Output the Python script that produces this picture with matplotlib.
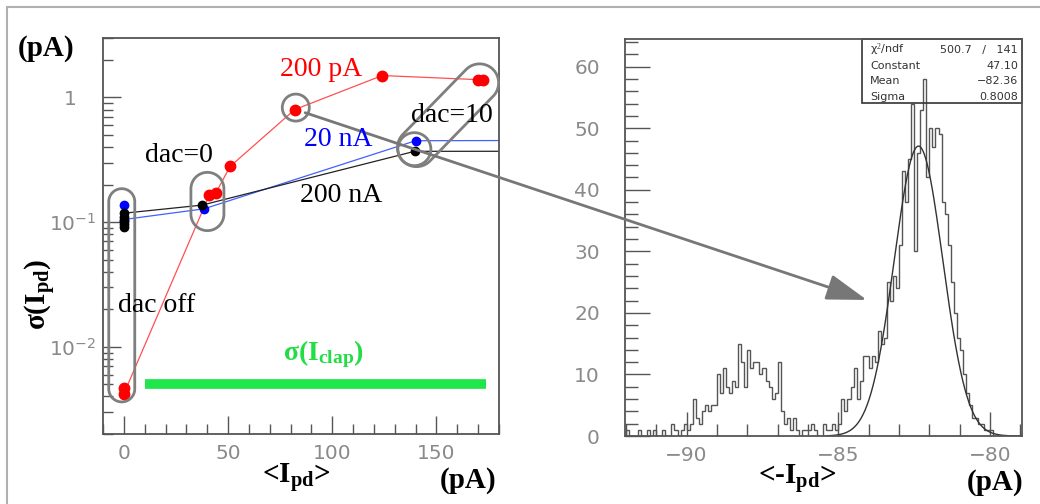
import numpy as np
import matplotlib.pyplot as plt
from matplotlib.patches import Polygon, Rectangle, ConnectionPatch
from matplotlib.transforms import IdentityTransform, ScaledTranslation
from matplotlib.ticker import MultipleLocator, LogLocator, NullFormatter

plt.rcParams['mathtext.fontset'] = 'custom'
plt.rcParams['mathtext.rm'] = 'Liberation Serif'
plt.rcParams['mathtext.it'] = 'Liberation Serif:italic'
plt.rcParams['mathtext.bf'] = 'Liberation Serif:bold'

# ---- left panel data: sigma(I_pd) vs <I_pd> ----
red_x = [0, 0, 41, 44, 51, 82, 124, 170, 172.5]
red_y = [0.0047, 0.0042, 0.165, 0.17, 0.28, 0.80, 1.50, 1.39, 1.37]
blue_x = [0, 0, 38.5, 140, 400]
blue_y = [0.138, 0.105, 0.128, 0.45, 0.46]
black_x = [0, 0, 0, 0, 0, 37.5, 139.5, 400]
black_y = [0.092, 0.097, 0.103, 0.11, 0.118, 0.137, 0.37, 0.372]
clap_x = [10, 174]
clap_y = [0.005, 0.005]

# ---- right panel data: histogram of <-I_pd> ----
edges = np.round(np.arange(-92.0, -78.95, 0.1), 2)
counts = [1, 0, 0, 0, 1, 0, 0, 1, 0, 1,
          0, 0, 1, 0, 0, 2, 1, 0, 1, 2,
          1, 2, 6, 3, 2, 4, 5, 4, 5, 5,
          10, 7, 11, 8, 7, 9, 8, 15, 12, 8,
          14, 11, 12, 12, 10, 11, 9, 8, 6, 7,
          12, 4, 2, 3, 1, 3, 1, 0, 1, 1,
          1, 2, 1, 0, 0, 2, 1, 1, 2, 1,
          2, 6, 4, 6, 8, 11, 6, 9, 13, 13,
          11, 13, 12, 17, 15, 16, 25, 22, 26, 24,
          31, 43, 38, 45, 54, 30, 46, 53, 58, 42,
          50, 47, 50, 49, 38, 36, 31, 25, 20, 16,
          14, 10, 7, 5, 3, 3, 2, 2, 1, 1,
          1, 0, 0, 0, 0, 0, 0, 0, 0, 0]
fit_const, fit_mean, fit_sigma = 47.10, -82.36, 0.8008
stats_rows = [("χ$^2$/ndf", "500.7   /   141"), ("Constant", "47.10"),
              ("Mean", "−82.36"), ("Sigma", "0.8008")]

W, H = 1040, 504
fig = plt.figure(figsize=(W / 100, H / 100), dpi=100)
ax1 = fig.add_axes([103 / W, 70 / H, 396 / W, 396 / H])
ax2 = fig.add_axes([625 / W, 68 / H, 397 / W, 397 / H])

tick_grey = '#8a8a8a'
for ax in (ax1, ax2):
    for s in ax.spines.values():
        s.set_color('#555555')
        s.set_linewidth(1.3)
    ax.tick_params(which='both', direction='in', top=False, right=False,
                   colors='#555555', labelcolor=tick_grey, labelsize=14.5)
    ax.tick_params(which='major', length=13, width=1.0)
    ax.tick_params(which='minor', length=7, width=1.0)

# left panel
ax1.set_yscale('log')
ax1.plot(red_x, red_y, color='#ff5050', lw=0.9, marker='o', ms=7.5,
         mfc='#ff0000', mec='#ff0000')
ax1.plot(blue_x, blue_y, color='#4060ff', lw=0.9, marker='o', ms=6,
         mfc='#0000ff', mec='#0000ff')
ax1.plot(black_x, black_y, color='#222222', lw=0.9, marker='o', ms=6,
         mfc='black', mec='black')
ax1.plot(clap_x, clap_y, color='#1ee64b', lw=7, solid_capstyle='butt')
ax1.set_xlim(-10, 180)
ax1.set_ylim(0.002, 3)
ax1.xaxis.set_major_locator(MultipleLocator(50))
ax1.xaxis.set_minor_locator(MultipleLocator(10))
ax1.set_yticks([0.01, 0.1, 1])
ax1.set_yticklabels([r'$\mathdefault{10^{-2}}$', r'$\mathdefault{10^{-1}}$',
                     r'$\mathdefault{1}$'])
ax1.yaxis.set_minor_locator(LogLocator(base=10, subs=np.arange(2, 10)))
ax1.yaxis.set_minor_formatter(NullFormatter())
ax1.tick_params(axis='y', pad=5)
ax1.tick_params(axis='x', pad=7)
# ROOT puts the plain "1" further left than the 10^n labels
one_tick = ax1.yaxis.get_major_ticks()[2]
one_tick.label1.set_transform(one_tick.label1.get_transform() +
                              ScaledTranslation(-20 / 100, 0, fig.dpi_scale_trans))

# right panel
ax2.stairs(counts, edges, color='#555555', lw=1.0)
gx = np.linspace(-85.4, -79.0, 300)
ax2.plot(gx, fit_const * np.exp(-0.5 * ((gx - fit_mean) / fit_sigma) ** 2),
         color='#333333', lw=1.0)
ax2.set_xlim(-92.03, -78.95)
ax2.set_ylim(0, 64.5)
ax2.xaxis.set_major_locator(MultipleLocator(5))
ax2.xaxis.set_minor_locator(MultipleLocator(1))
ax2.yaxis.set_major_locator(MultipleLocator(10))
ax2.yaxis.set_minor_locator(MultipleLocator(2))
ax2.tick_params(axis='y', which='major', length=18, pad=18)
ax2.tick_params(axis='y', which='minor', length=9)
ax2.tick_params(axis='x', which='major', length=17, pad=7)
ax2.tick_params(axis='x', which='minor', length=9)

# stats box
ax2.add_patch(Rectangle((0.597, 0.839), 0.403, 0.161, transform=ax2.transAxes,
                        fill=False, ec='#333333', lw=1.2, clip_on=False))
for i, (k, v) in enumerate(stats_rows):
    yy = 0.972 - i * 0.039
    ax2.text(0.617, yy, k, transform=ax2.transAxes, fontsize=8, color='#333333',
             va='center', ha='left')
    ax2.text(0.99, yy, v, transform=ax2.transAxes, fontsize=8, color='#333333',
             va='center', ha='right')


def ftxt(xp, yp, s, **kw):
    fig.text(xp / W, 1 - yp / H, s, ha='center', va='center',
             family='Liberation Serif', **kw)


ftxt(46, 48, '(pA)', fontsize=21, fontweight='bold')
ftxt(41, 295, r'σ(I$_\mathbf{pd}$)', fontsize=21, fontweight='bold', rotation=90)
ftxt(296, 477, r'<I$_\mathbf{pd}$>', fontsize=21, fontweight='bold')
ftxt(468, 480, '(pA)', fontsize=21, fontweight='bold')
ftxt(797, 479, r'<-I$_\mathbf{pd}$>', fontsize=21, fontweight='bold')
ftxt(995, 482, '(pA)', fontsize=21, fontweight='bold')
ftxt(321, 69, '200 pA', fontsize=20, color='#ff0000')
ftxt(452, 116, 'dac=10', fontsize=20, color='black')
ftxt(338, 139, '20 nA', fontsize=20, color='#0000ff')
ftxt(179, 155, 'dac=0', fontsize=20, color='black')
ftxt(341, 195, '200 nA', fontsize=20, color='black')
ftxt(157, 306, 'dac off', fontsize=20, color='black')
ftxt(323, 354, r'σ(I$_\mathbf{clap}$)', fontsize=20, fontweight='bold',
     color='#22dd44')


def capsule(ax, p0, p1, r):
    a = ax.transData.transform(p0)
    b = ax.transData.transform(p1)
    d = b - a
    ang = np.arctan2(d[1], d[0]) if np.hypot(*d) > 0 else np.pi / 2
    t1 = np.linspace(ang - np.pi / 2, ang + np.pi / 2, 40)
    t0 = np.linspace(ang + np.pi / 2, ang + 3 * np.pi / 2, 40)
    pts = np.vstack([b + r * np.c_[np.cos(t1), np.sin(t1)],
                     a + r * np.c_[np.cos(t0), np.sin(t0)]])
    fig.add_artist(Polygon(pts, closed=True, fill=False, ec='#7f7f7f', lw=2,
                           transform=IdentityTransform()))


capsule(ax1, (-1, 0.0046), (-1, 0.146), 13)
capsule(ax1, (40.1, 0.116), (40.1, 0.185), 16.5)
capsule(ax1, (82.5, 0.83), (82.5, 0.83), 13.5)
capsule(ax1, (139.4, 0.385), (139.4, 0.385), 16.5)
capsule(ax1, (140.4, 0.396), (170.7, 1.31), 19)

con = ConnectionPatch(xyA=(87, 0.755), coordsA=ax1.transData,
                      xyB=(-84.06, 22.1), coordsB=ax2.transData,
                      arrowstyle='-|>,head_length=1.25,head_width=0.4',
                      mutation_scale=20, color='#777777', lw=2,
                      shrinkA=0, shrinkB=0)
fig.add_artist(con)

# outer frame of the figure
fig.add_artist(Rectangle((7 / W, -0.2), 1.2, 1.2 - 7 / H, transform=fig.transFigure,
                         fill=False, ec='#b0b0b0', lw=1.5))

fig.savefig('out.png', dpi=100)
